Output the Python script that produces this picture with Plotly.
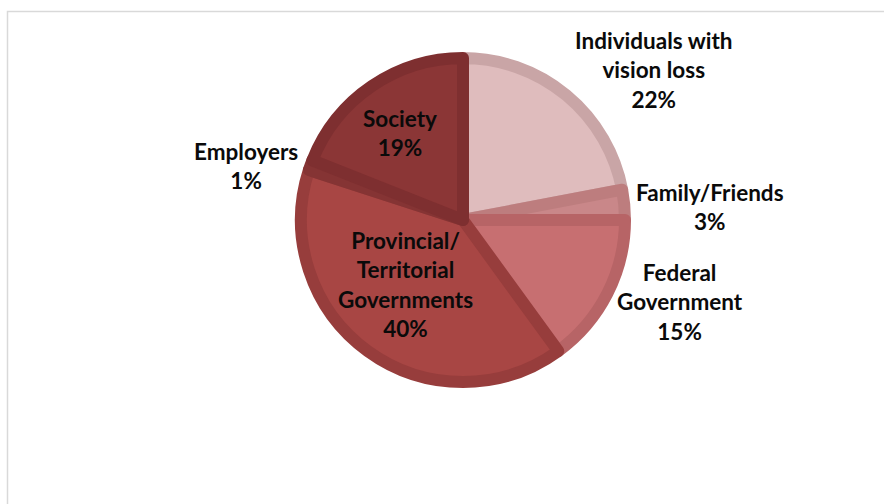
import plotly.graph_objects as go

# Share of the cost of vision loss, by who bears it
labels = [
    "Individuals with<br>vision loss",
    "Family/Friends",
    "Federal<br>Government",
    "Provincial/<br>Territorial<br>Governments",
    "Employers",
    "Society",
]
values = [22, 3, 15, 40, 1, 19]

fill_colors = ["#dfbcbd", "#c98789", "#c76f71", "#a84644", "#8f3a39", "#8b3636"]
edge_colors = ["#c9a5a6", "#bd7d7e", "#b76466", "#973d3c", "#853434", "#7e2f30"]

W, H = 884, 504
cx, cy, r = 463, 220, 162  # pie centre and radius in pixels (edge band adds ~6px)

fig = go.Figure()
fig.add_trace(go.Pie(
    labels=labels,
    values=values,
    sort=False,
    direction="clockwise",
    rotation=0,
    textinfo="none",
    hoverinfo="label+percent",
    showlegend=False,
    marker=dict(colors=fill_colors, line=dict(color=edge_colors, width=12)),
    domain=dict(x=[(cx - r) / W, (cx + r) / W], y=[(H - cy - r) / H, (H - cy + r) / H]),
))

# Label anchor points (pixel centres of each text block)
label_pos = [(653, 70), (710, 207), (680, 302), (405, 284), (246, 166), (400, 133)]
total = sum(values)
for name, v, (px, py) in zip(labels, values, label_pos):
    fig.add_annotation(
        x=px / W, y=1 - py / H, xref="paper", yref="paper",
        text=f"{name}<br>{round(100 * v / total)}%",
        showarrow=False, align="center", xanchor="center", yanchor="middle",
        font=dict(family="Lato", size=22.5, color="#0a0a0a", weight="bold"),
    )

# Light chart-area frame
fig.add_shape(
    type="rect", xref="paper", yref="paper",
    x0=7.5 / W, x1=1.02, y0=-0.02, y1=1 - 11.5 / H,
    line=dict(color="#d9d9d9", width=1.5), fillcolor="rgba(0,0,0,0)", layer="below",
)

fig.update_layout(
    width=W, height=H,
    margin=dict(l=0, r=0, t=0, b=0),
    paper_bgcolor="white", plot_bgcolor="white",
)

fig.write_html("out.html")
